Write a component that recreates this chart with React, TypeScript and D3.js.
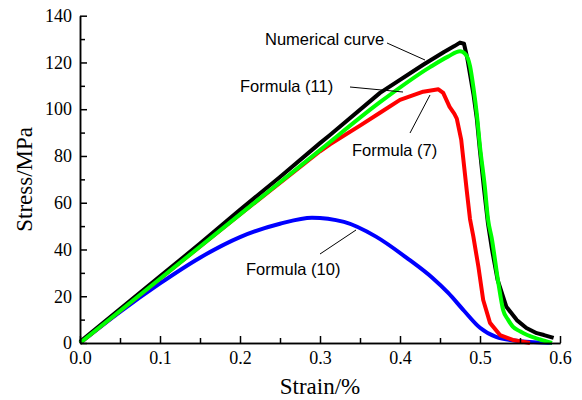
import React, { useEffect, useRef } from "react";
import * as d3 from "d3";

// strain (%) / stress (MPa)
const numericalStrain = [0, 0.05, 0.1, 0.15, 0.2, 0.25, 0.3, 0.3125, 0.375, 0.429, 0.455, 0.468, 0.475, 0.48, 0.484, 0.488, 0.492, 0.496, 0.5, 0.505, 0.51, 0.515, 0.522, 0.533, 0.546, 0.558, 0.571, 0.58, 0.592];
const numericalStress = [0.5, 14.5, 28.5, 42.5, 57, 71, 85.5, 89, 107, 119, 124.5, 127, 128.5, 128, 122, 114, 106, 96, 82, 66, 51, 40, 27, 15.5, 9.8, 6.4, 4.2, 3.4, 2.2];

const f11Strain = [0, 0.1, 0.2, 0.3, 0.375, 0.4375, 0.46, 0.475, 0.482, 0.4875, 0.4917, 0.496, 0.5, 0.506, 0.51, 0.5146, 0.523, 0.529, 0.535, 0.541, 0.55, 0.559, 0.575, 0.59];
const f11Stress = [0, 27.5, 55, 82.5, 103, 118, 122.5, 124.8, 123.5, 118.5, 109.5, 98, 84, 67, 53, 45, 25.6, 14, 10, 7, 5, 3.4, 1.5, 0];

const f7Strain = [0, 0.1, 0.2, 0.3, 0.3125, 0.35, 0.375, 0.4, 0.429, 0.448, 0.454, 0.462, 0.468, 0.471, 0.4765, 0.4835, 0.4875, 0.4917, 0.498, 0.504, 0.5125, 0.525, 0.541, 0.5625];
const f7Stress = [0, 27.5, 55, 82, 85, 93, 98.5, 104, 107.5, 108.5, 107, 101, 98, 96, 87, 65, 53, 45.5, 32.6, 18.4, 8.6, 3.4, 1.3, 0];

const f10Strain = [0, 0.05, 0.1, 0.15, 0.2, 0.25, 0.29, 0.33, 0.37, 0.41, 0.44, 0.46, 0.48, 0.5, 0.52, 0.55, 0.59];
const f10Stress = [0, 13.3, 25.5, 36.5, 45.3, 51, 53.6, 51.8, 45.5, 36, 28, 21.5, 13.8, 6.5, 2.6, 0.8, 0];

const xTicks = [0, 0.1, 0.2, 0.3, 0.4, 0.5, 0.6];
const xMinor = [0.05, 0.15, 0.25, 0.35, 0.45, 0.55];
const yTicks = [0, 20, 40, 60, 80, 100, 120, 140];
const yMinor = [10, 30, 50, 70, 90, 110, 130];

const W = 582;
const H = 400;
const margin = { top: 15.7, right: 22, bottom: 57, left: 80 };

const App = () => {
  const svgRef = useRef<SVGSVGElement>(null);

  useEffect(() => {
    const svg = d3.select(svgRef.current);
    svg.selectAll("*").remove();

    const x = d3.scaleLinear().domain([0, 0.6]).range([margin.left, W - margin.right]);
    const y = d3.scaleLinear().domain([0, 140]).range([H - margin.bottom, margin.top]);
    const serif = "'Liberation Serif', 'Times New Roman', serif";
    const sans = "'Liberation Sans', Arial, sans-serif";

    const series = [
      { xs: f10Strain, ys: f10Stress, color: "#0000ff", curve: d3.curveMonotoneX },
      { xs: f7Strain, ys: f7Stress, color: "#ff0000", curve: d3.curveLinear },
      { xs: numericalStrain, ys: numericalStress, color: "#000000", curve: d3.curveLinear },
      { xs: f11Strain, ys: f11Stress, color: "#00ff00", curve: d3.curveMonotoneX },
    ];

    series.forEach((s) => {
      const line = d3
        .line<number>()
        .x((d) => x(d))
        .y((_, i) => y(s.ys[i]))
        .curve(s.curve);
      svg.append("path")
        .attr("d", line(s.xs))
        .attr("fill", "none")
        .attr("stroke", s.color)
        .attr("stroke-width", 4)
        .attr("stroke-linejoin", "round");
    });

    // axes with inward ticks
    const xAxis = svg.append("g").attr("transform", `translate(0,${y(0)})`);
    xAxis.call(
      d3.axisBottom(x).tickValues(xTicks).tickSize(-7).tickSizeOuter(0).tickPadding(8).tickFormat(d3.format(".1f"))
    );
    xAxis.append("g").call(
      d3.axisBottom(x).tickValues(xMinor).tickSize(-5).tickSizeOuter(0).tickFormat(() => "")
    );

    const yAxis = svg.append("g").attr("transform", `translate(${x(0)},0)`);
    yAxis.call(
      d3.axisLeft(y).tickValues(yTicks).tickSize(-7).tickSizeOuter(0).tickPadding(8).tickFormat(d3.format("d"))
    );
    yAxis.append("g").call(
      d3.axisLeft(y).tickValues(yMinor).tickSize(-5).tickSizeOuter(0).tickFormat(() => "")
    );

    svg.selectAll(".domain").attr("stroke", "#000").attr("stroke-width", 1.5);
    svg.selectAll(".tick line").attr("stroke", "#000").attr("stroke-width", 1.5);
    svg.selectAll(".tick text")
      .style("font-family", serif)
      .style("font-size", "18px")
      .attr("fill", "#000");

    svg.append("text")
      .attr("transform", `translate(32,${(y(0) + y(140)) / 2}) rotate(-90)`)
      .attr("text-anchor", "middle")
      .style("font-family", serif)
      .style("font-size", "23px")
      .text("Stress/MPa");

    svg.append("text")
      .attr("x", (x(0) + x(0.6)) / 2)
      .attr("y", 394)
      .attr("text-anchor", "middle")
      .style("font-family", serif)
      .style("font-size", "23px")
      .text("Strain/%");

    // annotations with leader lines
    const notes = [
      { label: "Numerical curve", tx: 265, ty: 45, l: [387, 43, 425, 60] },
      { label: "Formula (11)", tx: 240, ty: 92, l: [350, 87, 403, 92] },
      { label: "Formula (7)", tx: 352, ty: 156, l: [430, 95, 410, 133] },
      { label: "Formula (10)", tx: 246, ty: 275, l: [320, 254, 356, 230] },
    ];
    notes.forEach((n) => {
      svg.append("line")
        .attr("x1", n.l[0]).attr("y1", n.l[1])
        .attr("x2", n.l[2]).attr("y2", n.l[3])
        .attr("stroke", "#000").attr("stroke-width", 1);
      svg.append("text")
        .attr("x", n.tx)
        .attr("y", n.ty)
        .style("font-family", sans)
        .style("font-size", "16.5px")
        .attr("fill", "#000")
        .text(n.label);
    });
  }, []);

  return (
    <svg
      ref={svgRef}
      width={W}
      height={H}
      style={{ position: "absolute", left: 0, top: 0, background: "#fff" }}
    />
  );
};

export default App;
